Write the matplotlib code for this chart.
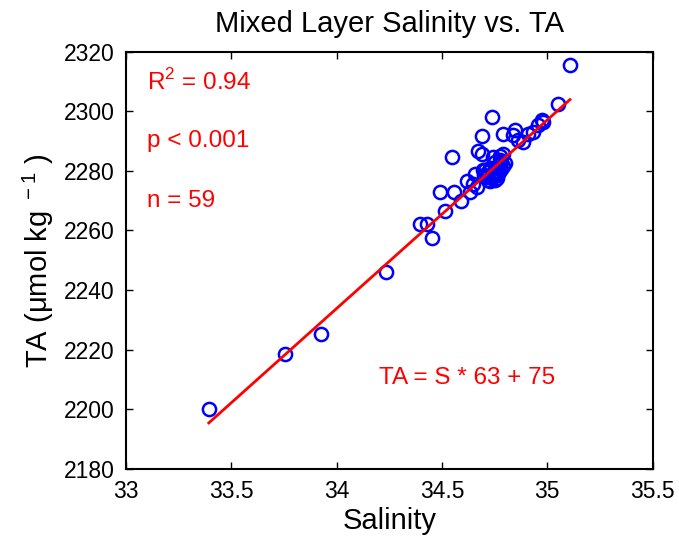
import matplotlib
matplotlib.use("Agg")
import matplotlib.pyplot as plt
import numpy as np

plt.rcParams['font.family'] = ['Liberation Sans', 'DejaVu Sans']
plt.rcParams['mathtext.fontset'] = 'custom'
plt.rcParams['mathtext.rm'] = 'Liberation Sans'

# mixed layer salinity and total alkalinity (umol/kg), one entry per station
salinity = [33.393, 33.757, 33.927, 34.236, 34.454,
            34.396, 34.428, 34.515, 34.491, 34.557, 34.591, 34.621, 34.634, 34.665, 34.549,
            34.671, 34.689, 34.739, 34.744, 34.776, 34.791, 34.839, 34.847, 34.863, 34.886,
            34.910, 34.934, 34.958, 34.982, 34.974, 35.053, 35.108,
            34.649, 34.657, 34.697, 34.704, 34.713, 34.720, 34.730, 34.740, 34.750, 34.740,
            34.750, 34.760, 34.770, 34.760, 34.770, 34.780, 34.790, 34.780, 34.800, 34.750,
            34.730, 34.720, 34.700, 34.776, 34.791, 34.689, 34.760]
ta = [2200.0, 2218.5, 2225.3, 2245.9, 2257.3,
      2262.3, 2262.3, 2266.4, 2272.8, 2272.8, 2269.9, 2276.5, 2273.0, 2274.6, 2284.7,
      2286.6, 2291.6, 2298.0, 2284.7, 2284.9, 2292.5, 2292.0, 2293.7, 2290.3, 2289.7,
      2292.5, 2293.1, 2295.3, 2296.4, 2297.0, 2302.6, 2315.6,
      2275.7, 2279.1, 2280.2, 2280.2, 2278.0, 2277.0, 2276.5, 2277.5, 2276.8, 2279.0,
      2280.0, 2278.5, 2279.5, 2281.0, 2282.0, 2280.5, 2281.5, 2283.0, 2282.5, 2283.0,
      2281.0, 2279.5, 2278.5, 2283.6, 2285.8, 2285.8, 2277.5]

# regression line coefficients (TA = slope * S + intercept)
slope = 63.3
intercept = 81.6

sal = np.array(salinity)
alk = np.array(ta)
xfit = np.array([sal.min(), sal.max()])
yfit = slope * xfit + intercept

fig = plt.figure(figsize=(6.79, 5.39), dpi=100)
ax = fig.add_axes([0.1856, 0.1304, 0.7754, 0.7736])

ax.plot(sal, alk, 'o', mfc='none', mec=(0, 0, 1), ms=9.5, mew=1.8)
ax.plot(xfit, yfit, '-', color=(1, 0, 0), lw=2)

ax.set_xlim(33, 35.5)
ax.set_ylim(2180, 2320)
ax.set_xticks([33, 33.5, 34, 34.5, 35, 35.5])
ax.set_xticklabels(['33', '33.5', '34', '34.5', '35', '35.5'])
ax.set_yticks(np.arange(2180, 2321, 20))
ax.tick_params(direction='in', length=5, width=1, labelsize=16.5, pad=8,
               top=True, right=True)
for s in ax.spines.values():
    s.set_linewidth(1.5)

ax.set_xlabel('Salinity', fontsize=21, labelpad=3)
ax.set_ylabel('TA (μmol kg$^{\\ -1}$ )', fontsize=21, labelpad=6)
ax.set_title('Mixed Layer Salinity vs. TA', fontsize=21, pad=14)

red = (1, 0, 0)
ax.text(33.1, 2310, r'R$^2$ = 0.94', color=red, fontsize=17.5, va='center')
ax.text(33.1, 2290, 'p < 0.001', color=red, fontsize=17.5, va='center')
ax.text(33.1, 2270, 'n = 59', color=red, fontsize=17.5, va='center')
ax.text(34.2, 2210.5, 'TA = S * 63 + 75', color=red, fontsize=17.5, va='center')

fig.savefig('out.png', dpi=100)
